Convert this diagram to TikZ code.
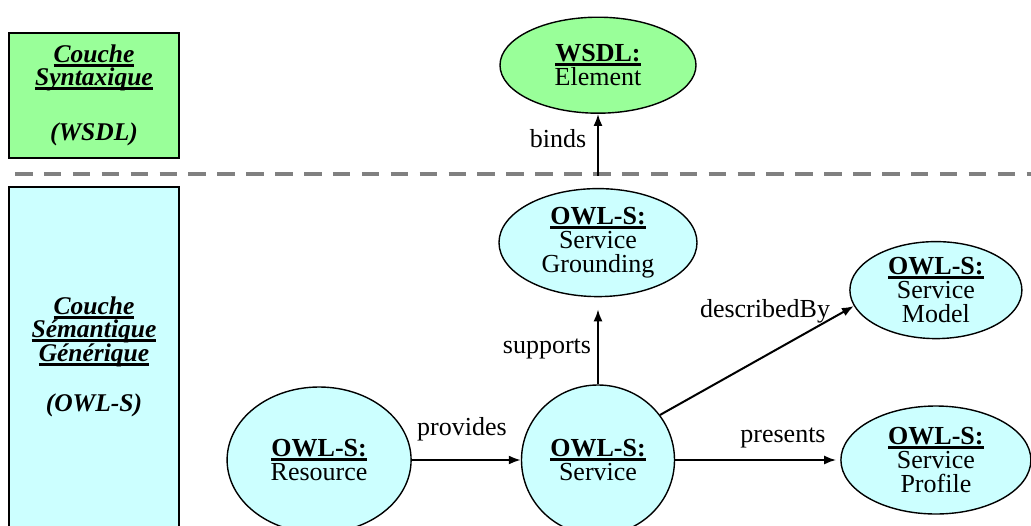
\documentclass[tikz,border=0pt]{standalone}
\usepackage{fontspec}
\setmainfont{Liberation Serif}
\usepackage{xcolor}
\usepackage{tikz}
\usetikzlibrary{positioning,shapes.geometric,arrows.meta}

\definecolor{syntgreen}{HTML}{99FF99}
\definecolor{semcyan}{HTML}{CCFFFF}
\definecolor{divgray}{HTML}{808080}

% thick underline, as in the slide
\newcommand{\thickul}[1]{\setbox0\hbox{#1}\rlap{\rule[-4.5pt]{\wd0}{2.8pt}}\box0}

\begin{document}
\begin{tikzpicture}[
    x=1pt, y=-1pt,
    font=\fontsize{26}{24}\selectfont,
    layer/.style={
        draw,
        line width=1.5pt,
        align=center,
        minimum width=170pt,
        font=\fontsize{25.5}{21.5}\selectfont\bfseries\itshape
    },
    concept/.style={
        ellipse,
        draw,
        line width=1.4pt,
        fill=semcyan,
        align=center,
        inner sep=-2pt
    },
    arrow/.style={-{Latex[length=12pt,width=9pt]}, line width=2pt},
    rel/.style={anchor=base},
    divider/.style={draw=divgray, line width=4.5pt, dash pattern=on 17.5pt off 11.4pt}
]
\useasboundingbox (0,0) rectangle (1031,525);

% layers
\node[layer, fill=syntgreen, minimum height=125pt] (synt) at (94,95.5)
    {\thickul{Couche}\\\thickul{Syntaxique}\\[31pt](WSDL)};
\node[layer, fill=semcyan, minimum height=340pt] (sem) at (94,357)
    {\thickul{Couche}\\\thickul{Sémantique}\\\thickul{Générique}\\[26pt](OWL-S)};

\coordinate (divl) at (15,174);
\coordinate (divr) at (1031,174);
\draw[divider] (divl) -- (divr);

% concepts
\node[concept, minimum width=153pt, minimum height=150pt] (service) at (598,460)
    {\thickul{\textbf{OWL-S:}}\\Service};
\node[concept, minimum width=184pt, minimum height=146pt, left=109pt of service] (resource)
    {\thickul{\textbf{OWL-S:}}\\Resource};
\node[concept, minimum width=198pt, minimum height=108pt, above=87pt of service] (grounding)
    {\thickul{\textbf{OWL-S:}}\\Service\\Grounding};
\node[concept, fill=syntgreen, minimum width=196pt, minimum height=96pt, above=74pt of grounding] (element)
    {\thickul{\textbf{WSDL:}}\\Element};
\node[concept, minimum width=190pt, minimum height=108pt, right=165pt of service] (profile)
    {\thickul{\textbf{OWL-S:}}\\Service\\Profile};
\node[concept, minimum width=172pt, minimum height=97pt, above=66pt of profile] (model)
    {\thickul{\textbf{OWL-S:}}\\Service\\Model};

% relations
\draw[arrow, shorten <=12pt] (grounding) -- (element);
\draw[arrow, shorten >=12pt] (service) -- (grounding);
\draw[arrow] (resource) -- (service);
\draw[arrow] (service.36) -- (model.191);
\draw[arrow, shorten >=4pt] (service) -- (profile);

\node[rel] (bindslbl) at (558,147) {binds};
\node[rel] (supportslbl) at (547,353) {supports};
\node[rel] (provideslbl) at (462,435) {provides};
\node[rel] (describedlbl) at (765,317) {describedBy};
\node[rel] (presentslbl) at (783,442) {presents};

\end{tikzpicture}
\end{document}
